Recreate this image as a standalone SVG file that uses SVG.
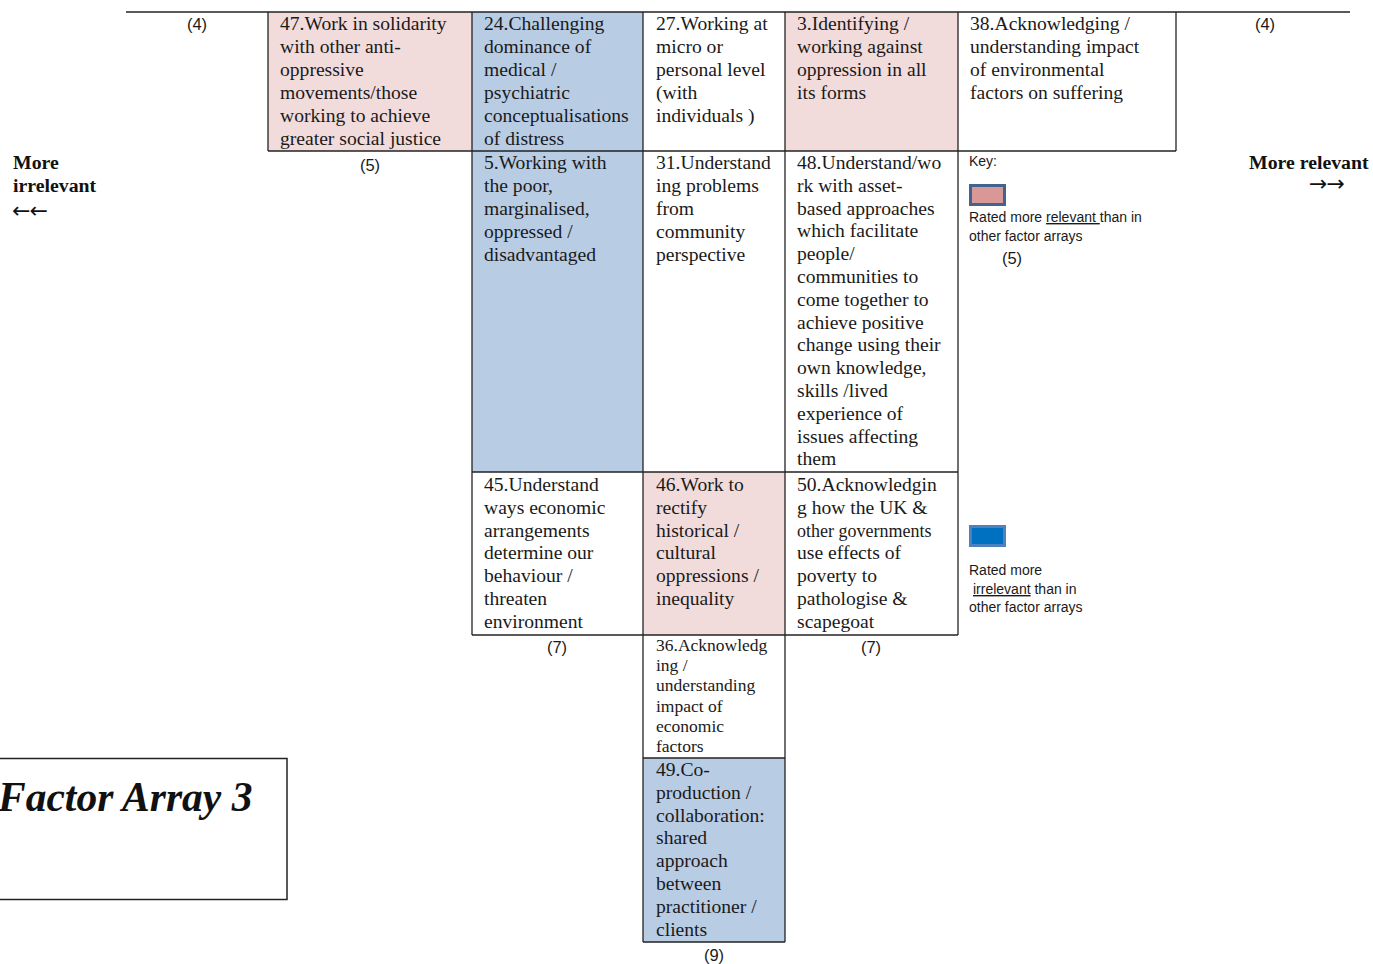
<svg xmlns="http://www.w3.org/2000/svg" width="1373" height="964" viewBox="0 0 1373 964">
<style>
.t{font-family:"Liberation Serif","Times New Roman",serif;font-size:19.6px;fill:#1a1a1a}
.ts{font-family:"Liberation Serif","Times New Roman",serif;font-size:17.5px;fill:#1a1a1a}
.n{font-family:"Liberation Sans",Arial,sans-serif;font-size:16.5px;fill:#1a1a1a;text-anchor:middle}
.k{font-family:"Liberation Sans",Arial,sans-serif;font-size:14px;fill:#1a1a1a}
.b{font-family:"Liberation Serif","Times New Roman",serif;font-size:19.8px;font-weight:bold;fill:#111}
.ar{font-family:"DejaVu Sans",sans-serif;font-size:22px;fill:#111}
.ln{stroke:#222;stroke-width:1.3;fill:none}
.pink{fill:#f2dcdb}
.blue{fill:#b8cce4}
</style>
<rect width="1373" height="964" fill="#fff"/>
<g id="fills">
<rect class="pink" x="268" y="12" width="204" height="139"/>
<rect class="blue" x="472" y="12" width="171" height="139"/>
<rect class="pink" x="785" y="12" width="173" height="139"/>
<rect class="blue" x="472" y="151" width="171" height="321"/>
<rect class="pink" x="643" y="472" width="142" height="163"/>
<rect class="blue" x="643" y="758" width="142" height="184"/>
</g>
<g id="grid">
<line class="ln" x1="126" y1="12" x2="1350" y2="12"/>
<line class="ln" x1="268" y1="151" x2="1176" y2="151"/>
<line class="ln" x1="472" y1="472" x2="958" y2="472"/>
<line class="ln" x1="472" y1="635" x2="958" y2="635"/>
<line class="ln" x1="643" y1="758" x2="785" y2="758"/>
<line class="ln" x1="643" y1="942" x2="785" y2="942"/>
<line class="ln" x1="268" y1="12" x2="268" y2="151"/>
<line class="ln" x1="472" y1="12" x2="472" y2="635"/>
<line class="ln" x1="643" y1="12" x2="643" y2="942"/>
<line class="ln" x1="785" y1="12" x2="785" y2="942"/>
<line class="ln" x1="958" y1="12" x2="958" y2="635"/>
<line class="ln" x1="1176" y1="12" x2="1176" y2="151"/>
</g>
<g id="n47"><text class="t" x="280" y="30"><tspan x="280">47.Work in solidarity</tspan><tspan x="280" dy="23">with other anti-</tspan><tspan x="280" dy="23">oppressive</tspan><tspan x="280" dy="23">movements/those</tspan><tspan x="280" dy="23">working to achieve</tspan><tspan x="280" dy="23">greater social justice</tspan></text></g>
<g id="n24"><text class="t" x="484" y="30"><tspan x="484">24.Challenging</tspan><tspan x="484" dy="23">dominance of</tspan><tspan x="484" dy="23">medical /</tspan><tspan x="484" dy="23">psychiatric</tspan><tspan x="484" dy="23">conceptualisations</tspan><tspan x="484" dy="23">of distress</tspan></text></g>
<g id="n27"><text class="t" x="656" y="30"><tspan x="656">27.Working at</tspan><tspan x="656" dy="23">micro or</tspan><tspan x="656" dy="23">personal level</tspan><tspan x="656" dy="23">(with</tspan><tspan x="656" dy="23">individuals )</tspan></text></g>
<g id="n3"><text class="t" x="797" y="30"><tspan x="797">3.Identifying /</tspan><tspan x="797" dy="23">working against</tspan><tspan x="797" dy="23">oppression in all</tspan><tspan x="797" dy="23">its forms</tspan></text></g>
<g id="n38"><text class="t" x="970" y="30"><tspan x="970">38.Acknowledging /</tspan><tspan x="970" dy="23">understanding  impact</tspan><tspan x="970" dy="23">of environmental</tspan><tspan x="970" dy="23">factors on suffering</tspan></text></g>
<g id="n5"><text class="t" x="484" y="169"><tspan x="484">5.Working with</tspan><tspan x="484" dy="23">the poor,</tspan><tspan x="484" dy="23">marginalised,</tspan><tspan x="484" dy="23">oppressed /</tspan><tspan x="484" dy="23">disadvantaged</tspan></text></g>
<g id="n31"><text class="t" x="656" y="169"><tspan x="656">31.Understand</tspan><tspan x="656" dy="23">ing problems</tspan><tspan x="656" dy="23">from</tspan><tspan x="656" dy="23">community</tspan><tspan x="656" dy="23">perspective</tspan></text></g>
<g id="n48"><text class="t" x="797" y="169"><tspan x="797">48.Understand/wo</tspan><tspan x="797" dy="22.8">rk with asset-</tspan><tspan x="797" dy="22.8">based approaches</tspan><tspan x="797" dy="22.8">which facilitate</tspan><tspan x="797" dy="22.8">people/</tspan><tspan x="797" dy="22.8">communities to</tspan><tspan x="797" dy="22.8">come together to</tspan><tspan x="797" dy="22.8">achieve positive</tspan><tspan x="797" dy="22.8">change using their</tspan><tspan x="797" dy="22.8">own knowledge,</tspan><tspan x="797" dy="22.8">skills /lived</tspan><tspan x="797" dy="22.8">experience of</tspan><tspan x="797" dy="22.8">issues affecting</tspan><tspan x="797" dy="22.8">them</tspan></text></g>
<g id="n45"><text class="t" x="484" y="491"><tspan x="484">45.Understand</tspan><tspan x="484" dy="22.8">ways economic</tspan><tspan x="484" dy="22.8">arrangements</tspan><tspan x="484" dy="22.8">determine our</tspan><tspan x="484" dy="22.8">behaviour /</tspan><tspan x="484" dy="22.8">threaten</tspan><tspan x="484" dy="22.8">environment</tspan></text></g>
<g id="n46"><text class="t" x="656" y="491"><tspan x="656">46.Work to</tspan><tspan x="656" dy="22.8">rectify</tspan><tspan x="656" dy="22.8">historical /</tspan><tspan x="656" dy="22.8">cultural</tspan><tspan x="656" dy="22.8">oppressions /</tspan><tspan x="656" dy="22.8">inequality</tspan></text></g>
<g id="n50"><text class="t" x="797" y="491"><tspan x="797">50.Acknowledgin</tspan><tspan x="797" dy="22.8">g how the UK &amp;</tspan><tspan x="797" dy="22.8" font-size="18">other governments</tspan><tspan x="797" dy="22.8">use effects of</tspan><tspan x="797" dy="22.8">poverty to</tspan><tspan x="797" dy="22.8">pathologise &amp;</tspan><tspan x="797" dy="22.8">scapegoat</tspan></text></g>
<g id="n36"><text class="ts" x="656" y="651"><tspan x="656">36.Acknowledg</tspan><tspan x="656" dy="20.2">ing /</tspan><tspan x="656" dy="20.2">understanding</tspan><tspan x="656" dy="20.2">impact of</tspan><tspan x="656" dy="20.2">economic</tspan><tspan x="656" dy="20.2">factors</tspan></text></g>
<g id="n49"><text class="t" x="656" y="776"><tspan x="656">49.Co-</tspan><tspan x="656" dy="22.8">production /</tspan><tspan x="656" dy="22.8">collaboration:</tspan><tspan x="656" dy="22.8">shared</tspan><tspan x="656" dy="22.8">approach</tspan><tspan x="656" dy="22.8">between</tspan><tspan x="656" dy="22.8">practitioner /</tspan><tspan x="656" dy="22.8">clients</tspan></text></g>
<g id="counts">
<text class="n" x="197" y="30">(4)</text>
<text class="n" x="1265" y="30">(4)</text>
<text class="n" x="370" y="171">(5)</text>
<text class="n" x="1012" y="264">(5)</text>
<text class="n" x="557" y="653">(7)</text>
<text class="n" x="871" y="653">(7)</text>
<text class="n" x="714" y="961">(9)</text>
</g>
<g id="axis">
<text class="b" x="13" y="169">More</text>
<text class="b" x="13" y="192">irrelevant</text>
<text class="ar" x="12" y="218" letter-spacing="-1">←←</text>
<text class="b" x="1249" y="169">More relevant</text>
<text class="ar" x="1309" y="191" letter-spacing="-1">→→</text>
</g>
<g id="key">
<text class="k" x="969" y="166">Key:</text>
<rect x="970.5" y="185.5" width="34" height="19" fill="#d99795" stroke="#41648f" stroke-width="3"/>
<text class="k" x="969" y="222">Rated more <tspan text-decoration="underline">relevant </tspan>than in</text>
<text class="k" x="969" y="241">other factor arrays</text>
<rect x="970.5" y="526.5" width="34" height="19" fill="#0070c0" stroke="#4f81bd" stroke-width="3"/>
<text class="k" x="969" y="575">Rated more</text>
<text class="k" x="973" y="594"><tspan text-decoration="underline">irrelevant</tspan> than in</text>
<text class="k" x="969" y="612">other factor arrays</text>
</g>
<g id="title">
<rect x="-10" y="758.5" width="297" height="141" fill="none" stroke="#222" stroke-width="1.5"/>
<text x="-2" y="811" font-family="'Liberation Serif','Times New Roman',serif" font-size="41.5" font-weight="bold" font-style="italic" fill="#111">Factor Array 3</text>
</g>
</svg>
